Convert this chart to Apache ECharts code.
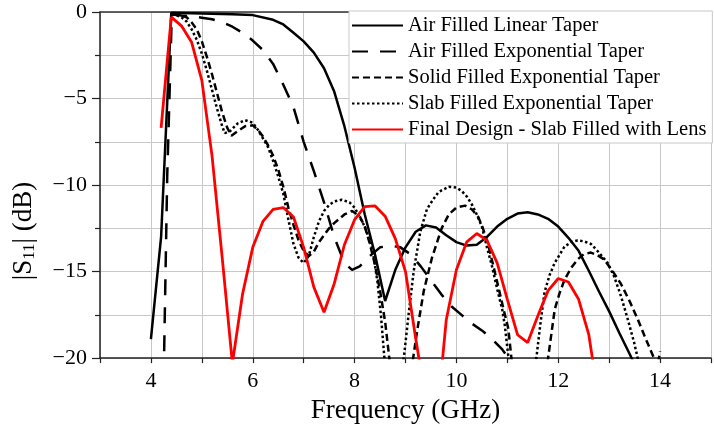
<!DOCTYPE html>
<html>
<head>
<meta charset="utf-8">
<script src="https://cdn.jsdelivr.net/npm/echarts@6/dist/echarts.min.js"></script>
<style>
  html, body { margin: 0; padding: 0; background: #fff; }
  #chart { width: 714px; height: 429px; }
</style>
</head>
<body>
<div id="chart"></div>
<script>
// legend names
const seriesNames = [
    'Air Filled Linear Taper',
    'Air Filled Exponential Taper',
    'Solid Filled Exponential Taper',
    'Slab Filled Exponential Taper',
    'Final Design - Slab Filled with Lens',
];

// Air filled, linear taper (GHz / dB)
const linearFreq = [4.0, 4.2, 4.4, 4.8, 5.2, 5.6, 6.0, 6.4, 6.6, 6.8, 7.0, 7.2, 7.4, 7.6, 7.8, 8.0, 8.2, 8.4, 8.6, 8.8,
    9.0, 9.2, 9.4, 9.6, 9.8, 10.0, 10.2, 10.4, 10.6, 10.8, 11.0, 11.2, 11.4, 11.6, 11.8, 12.0, 12.2, 12.4, 12.6, 12.8,
    13.0, 13.2, 13.4, 13.6];
const linearS11 = [-18.9, -13.0, -0.05, -0.07, -0.1, -0.13, -0.18, -0.45, -0.72, -1.2, -1.7, -2.35, -3.25, -4.6, -6.6, -9.0, -11.7, -14.0, -16.7, -14.9,
    -13.6, -12.7, -12.33, -12.45, -12.9, -13.3, -13.5, -13.45, -13.0, -12.4, -11.95, -11.65, -11.57, -11.7, -11.95, -12.4, -13.05, -13.8, -14.95, -16.15,
    -17.3, -18.55, -19.75, -21];

// Air filled, exponential taper
const airExpFreq = [4.26, 4.32, 4.41, 4.6, 4.8, 5.0, 5.2, 5.4, 5.6, 5.8, 6.0, 6.2, 6.4, 6.6, 6.8, 7.0, 7.2, 7.4, 7.6, 7.8,
    7.95, 8.1, 8.3, 8.5, 8.7, 8.9, 9.1, 9.3, 9.5, 9.7, 9.9, 10.1, 10.3, 10.5, 10.7, 10.9, 11.05];
const airExpS11 = [-19.6, -9.5, -0.15, -0.2, -0.25, -0.33, -0.42, -0.58, -0.85, -1.2, -1.65, -2.2, -3.0, -4.2, -5.5, -7.5, -9.2, -11.0, -13.0, -14.5,
    -14.9, -14.7, -14.1, -13.6, -13.5, -13.6, -14.0, -14.7, -15.5, -16.3, -17.0, -17.5, -18.0, -18.4, -18.9, -19.5, -20.1];

// Solid filled, exponential taper
const solidFreq = [4.41, 4.5, 4.6, 4.7, 4.8, 4.9, 5.0, 5.1, 5.2, 5.3, 5.4, 5.5, 5.58, 5.7, 5.85, 6.0, 6.1, 6.2, 6.3, 6.4,
    6.5, 6.6, 6.7, 6.8, 6.9, 7.0, 7.1, 7.2, 7.3, 7.4, 7.5, 7.6, 7.7, 7.8, 7.95, 8.1, 8.2, 8.3, 8.4, 8.5,
    8.6, 8.67, 8.72, 9.12, 9.15, 9.23, 9.36, 9.52, 9.71, 9.85, 10.0, 10.17, 10.3, 10.43, 10.52, 10.62, 10.72, 10.82, 10.92, 11.02,
    11.08, 11.12, 11.75, 11.8, 11.93, 12.02, 12.12, 12.25, 12.38, 12.5, 12.64, 12.77, 12.9, 13.05, 13.23, 13.4, 13.56, 13.72, 13.88, 13.95,
    14.0];
const solidS11 = [-0.1, -0.15, -0.2, -0.3, -0.6, -1.0, -1.7, -2.6, -3.6, -4.7, -5.8, -6.7, -7.15, -6.9, -6.6, -6.55, -6.8, -7.2, -7.7, -8.3,
    -9.1, -10.1, -11.3, -12.3, -13.2, -13.8, -14.1, -13.85, -13.3, -12.9, -12.5, -12.2, -11.95, -11.7, -11.5, -11.8, -12.4, -13.4, -14.6, -16.1,
    -17.9, -19.7, -21, -21, -20, -18.4, -16.1, -14.2, -12.5, -11.7, -11.3, -11.19, -11.4, -11.85, -12.5, -13.4, -14.6, -15.85, -17.1, -18.3,
    -20, -21, -21, -20, -17.2, -16.3, -15.5, -14.8, -14.3, -14.0, -13.9, -14.05, -14.3, -14.9, -15.7, -16.7, -17.75, -18.9, -20, -20.5,
    -19.6];

// Slab filled, exponential taper
const slabFreq = [4.41, 4.5, 4.6, 4.7, 4.8, 4.9, 5.0, 5.1, 5.2, 5.3, 5.4, 5.45, 5.55, 5.7, 5.85, 6.0, 6.1, 6.2, 6.3, 6.4,
    6.5, 6.6, 6.7, 6.8, 6.9, 7.0, 7.1, 7.2, 7.3, 7.4, 7.5, 7.6, 7.75, 7.9, 8.0, 8.2, 8.35, 8.45, 8.52, 8.58,
    8.62, 8.9, 8.97, 9.06, 9.16, 9.29, 9.42, 9.55, 9.65, 9.85, 10.0, 10.1, 10.2, 10.3, 10.4, 10.5, 10.6, 10.7, 10.8, 10.9,
    10.95, 11.0, 11.03, 11.08, 11.5, 11.57, 11.65, 11.73, 11.83, 11.93, 12.12, 12.25, 12.38, 12.5, 12.64, 12.8, 12.97, 13.1, 13.23, 13.36,
    13.49, 13.56, 13.6];
const slabS11 = [-0.15, -0.2, -0.3, -0.55, -1.0, -1.6, -2.4, -3.4, -4.5, -5.6, -6.6, -7.0, -6.9, -6.45, -6.25, -6.4, -6.8, -7.3, -7.8, -8.6,
    -9.5, -10.5, -12.0, -13.4, -14.2, -14.5, -14.1, -13.0, -12.1, -11.5, -11.15, -10.95, -10.85, -11.0, -11.3, -12.4, -13.7, -15.6, -17.6, -19.8,
    -21, -21, -19.9, -17.5, -15.0, -12.7, -11.4, -10.8, -10.4, -10.1, -10.15, -10.33, -10.65, -11.1, -11.7, -12.4, -13.6, -14.7, -16.0, -17.2,
    -18.1, -19.4, -20.2, -21, -21, -20, -18.0, -16.2, -15.2, -14.5, -13.57, -13.3, -13.2, -13.25, -13.4, -13.9, -14.5, -15.3, -16.4, -17.7,
    -19.1, -20, -21];

// final design, slab filled with lens (0.2 GHz steps)
const lensFreq = [4.2, 4.4, 4.6, 4.8, 5.0, 5.2, 5.4, 5.6, 5.8, 6.0, 6.2, 6.4, 6.6, 6.8, 7.0, 7.2, 7.4, 7.6, 7.8, 8.0,
    8.2, 8.4, 8.6, 8.8, 9.0, 9.2, 9.4, 9.6, 9.8, 10.0, 10.2, 10.4, 10.6, 10.8, 11.0, 11.2, 11.4, 11.6, 11.8, 12.0,
    12.2, 12.4, 12.6, 12.8];
const lensS11 = [-6.7, -0.3, -0.8, -1.75, -3.95, -8.3, -14.2, -20.3, -16.3, -13.6, -12.1, -11.4, -11.3, -11.85, -13.6, -15.9, -17.35, -15.7, -13.45, -12.0,
    -11.25, -11.2, -11.8, -13.1, -15.0, -18.85, -22.5, -24, -17.8, -14.9, -13.3, -12.8, -13.2, -14.5, -16.6, -18.65, -19.1, -17.55, -16.1, -15.4,
    -15.6, -16.6, -18.65, -22.5];

const fontName = '"Liberation Serif", "Times New Roman", serif';

let zip = function(xs, ys) {
    return xs.map((x, i) => [x, ys[i]]);
};

let makeSeries = function(name, xs, ys, color, width, dash) {
    return {
        name: name,
        type: 'line',
        data: zip(xs, ys),
        symbol: 'none',
        clip: true,
        lineStyle: {
            color: color,
            width: width,
            type: dash,
        },
        itemStyle: { color: color },
        z: 2,
    };
};

const chart = echarts.init(document.getElementById('chart'), null, { renderer: 'canvas' });

const option = {
    animation: false,
    backgroundColor: '#fff',
    textStyle: { fontFamily: fontName, color: '#000' },
    grid: {
        left: 100,
        right: 1,
        top: 12,
        bottom: 66,
        containLabel: false,
    },
    legend: {
        orient: 'vertical',
        left: 349,
        top: 11,
        padding: [4, 6, 3, 2],
        itemWidth: 51,
        itemHeight: 14,
        itemGap: 5,
        backgroundColor: '#fff',
        borderColor: '#c8c8c8',
        borderWidth: 1,
        // line only, no marker in the legend
        itemStyle: { opacity: 0, borderWidth: 0 },
        textStyle: {
            fontFamily: fontName,
            fontSize: 20.5,
            color: '#000',
        },
        data: seriesNames,
    },
    xAxis: [
        {
            type: 'value',
            min: 3,
            max: 15,
            interval: 1,
            name: 'Frequency (GHz)',
            nameLocation: 'middle',
            nameGap: 32,
            nameTextStyle: { fontFamily: fontName, fontSize: 27, color: '#000' },
            axisLine: { onZero: false, lineStyle: { color: '#222', width: 1.5 } },
            axisTick: { show: true, inside: false, length: 5, lineStyle: { color: '#222', width: 1.2 } },
            axisLabel: {
                fontFamily: fontName,
                fontSize: 22,
                color: '#000',
                margin: 12,
                formatter: function(v) {
                    return v % 2 === 0 ? String(v) : '';
                },
            },
            splitLine: { show: true, lineStyle: { color: '#c8c8c8', width: 1 } },
        },
        {
            // top frame line
            type: 'value',
            position: 'top',
            min: 3,
            max: 15,
            axisLine: { show: true, lineStyle: { color: '#333', width: 1.5 } },
            axisTick: { show: false },
            axisLabel: { show: false },
            splitLine: { show: false },
        },
    ],
    yAxis: {
        type: 'value',
        min: -20,
        max: 0,
        interval: 5,
        axisLine: { show: true, onZero: false, lineStyle: { color: '#222', width: 1.5 } },
        axisTick: { show: true, inside: false, length: 8, lineStyle: { color: '#222', width: 1.2 } },
        minorTick: { show: true, splitNumber: 2, length: 5, lineStyle: { color: '#222', width: 1.2 } },
        axisLabel: {
            fontFamily: fontName,
            fontSize: 22,
            color: '#000',
            margin: 13,
            formatter: function(v) {
                return String(v).replace('-', '\u2212');
            },
        },
        splitLine: { show: true, lineStyle: { color: '#c8c8c8', width: 1 } },
        minorSplitLine: { show: true, lineStyle: { color: '#c8c8c8', width: 1 } },
    },
    graphic: [
        {
            type: 'text',
            x: 24,
            y: 231,
            rotation: Math.PI / 2,
            style: {
                text: '|S{sub|11}| (dB)',
                font: '27px "Liberation Serif"',
                fill: '#000',
                align: 'center',
                verticalAlign: 'middle',
                rich: {
                    sub: {
                        fontFamily: 'Liberation Serif',
                        fontSize: 17,
                        fill: '#000',
                        verticalAlign: 'bottom',
                        padding: [12, 0, 0, 0],
                    },
                },
            },
        },
    ],
    series: [
        makeSeries(seriesNames[0], linearFreq, linearS11, '#000', 2.5, 'solid'),
        makeSeries(seriesNames[1], airExpFreq, airExpS11, '#000', 2.5, [16, 12]),
        makeSeries(seriesNames[2], solidFreq, solidS11, '#000', 2.5, [7, 4]),
        makeSeries(seriesNames[3], slabFreq, slabS11, '#000', 2.5, [2.5, 2.5]),
        makeSeries(seriesNames[4], lensFreq, lensS11, '#ff0000', 2.8, 'solid'),
    ],
};

chart.setOption(option);
</script>
</body>
</html>
